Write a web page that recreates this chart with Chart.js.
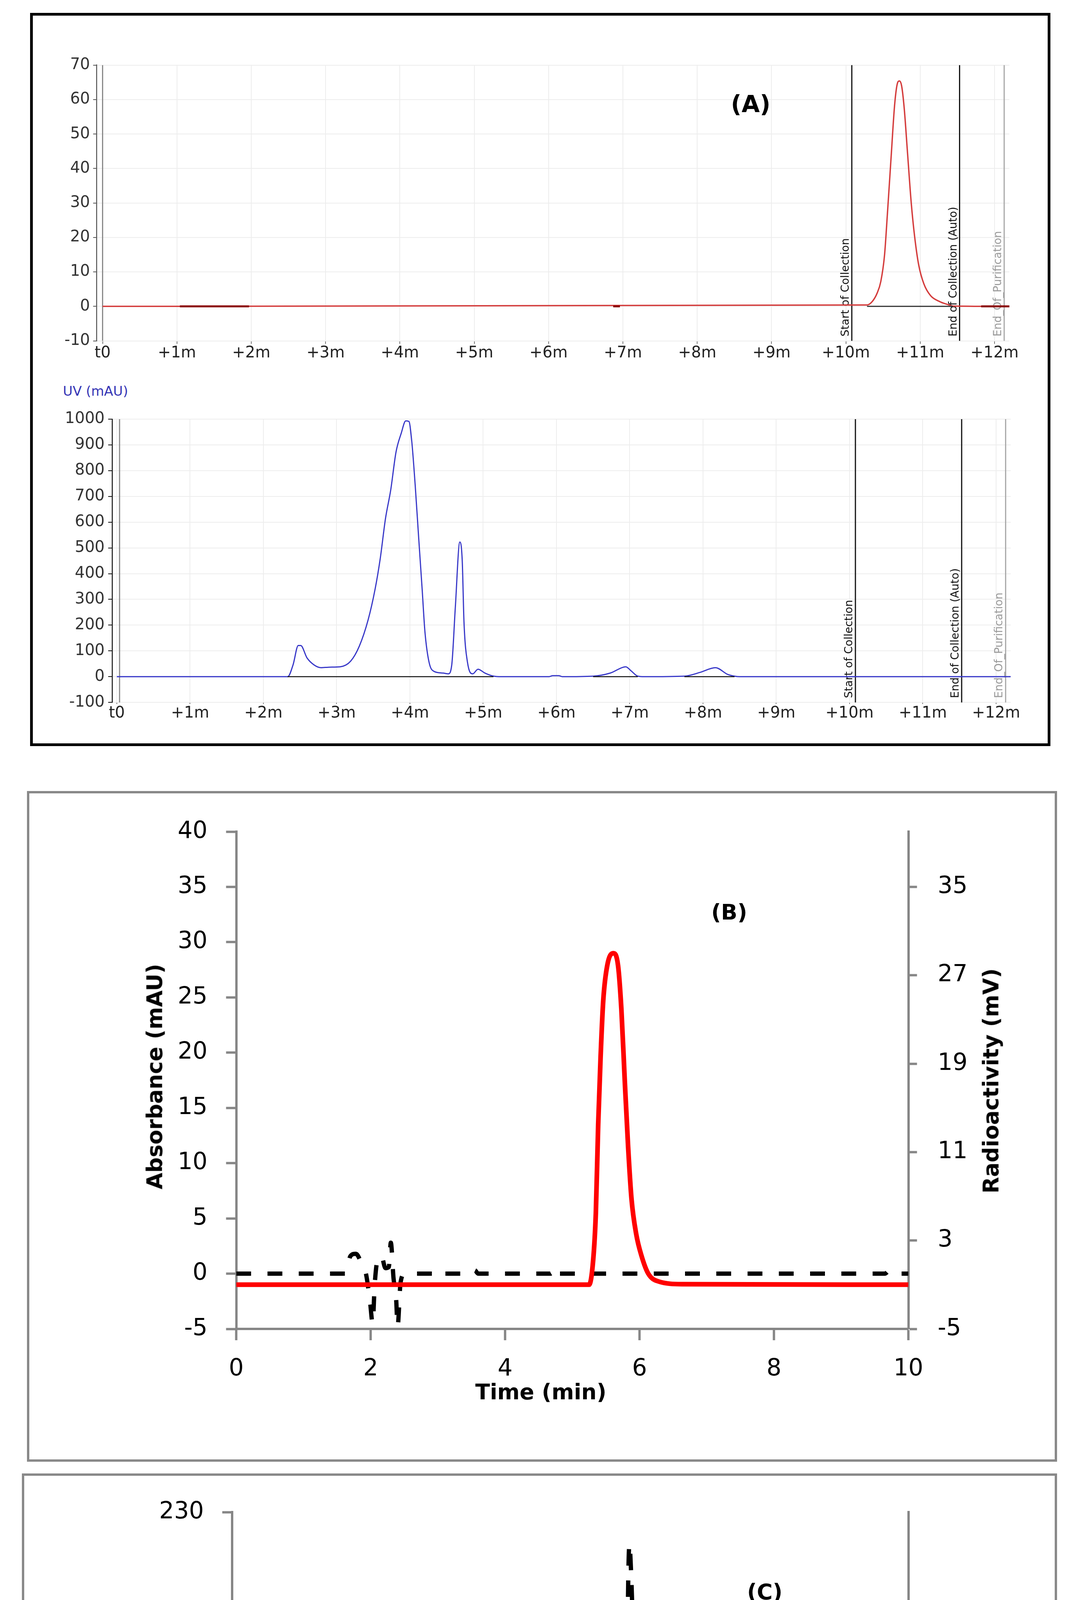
<!DOCTYPE html>
<html><head><meta charset="utf-8">
<script src="https://cdn.jsdelivr.net/npm/chart.js@4.4.1/dist/chart.umd.min.js"></script>
<style>
html,body{margin:0;padding:0;background:#fff;}
#page{position:relative;width:2733px;height:5506px;background:#fff;overflow:hidden;font-family:'DejaVu Sans',sans-serif;}
.box{position:absolute;box-sizing:border-box;}
canvas{position:absolute;}
.lbl{position:absolute;white-space:nowrap;line-height:1;transform:translate(-50%,-50%);color:#000;}
.rot{transform:translate(-50%,-50%) rotate(-90deg);}
.b{font-weight:bold;}
</style></head>
<body><div id="page">
<div class="box" style="left:77px;top:33px;width:2611px;height:1877px;border:7px solid #000;"></div>
<div class="box" style="left:69px;top:2025px;width:2636px;height:1717px;border:6px solid #898989;"></div>
<div class="box" style="left:56px;top:3772px;width:2649px;height:1691px;border:6px solid #898989;"></div>

<canvas id="cA1" width="2588" height="860" style="left:88px;top:100px;"></canvas>
<canvas id="cA2" width="2588" height="855" style="left:88px;top:1040px;"></canvas>
<canvas id="cB" width="2610" height="1685" style="left:80px;top:2040px;"></canvas>
<canvas id="cC" width="2620" height="1665" style="left:70px;top:3785px;"></canvas>

<div class="lbl b" style="left:1921px;top:266px;font-size:60px;">(A)</div>
<div class="lbl" style="left:161px;top:1001px;transform:translate(0,-50%);font-size:34px;color:#3535b5;">UV (mAU)</div>

<div class="lbl b" style="left:1866px;top:2335px;font-size:55px;">(B)</div>
<div class="lbl b rot" style="left:396px;top:2756px;font-size:55px;">Absorbance (mAU)</div>
<div class="lbl b rot" style="left:2536px;top:2767px;font-size:55px;">Radioactivity (mV)</div>
<div class="lbl b" style="left:1384px;top:3563px;font-size:55px;">Time (min)</div>

<div class="lbl b" style="left:1957px;top:4075px;font-size:55px;">(C)</div>
<div class="lbl b rot" style="left:338px;top:4506px;font-size:55px;">Absorbance (mAU)</div>
<div class="lbl b rot" style="left:2536px;top:4520px;font-size:55px;">Radioactivity (mV)</div>
<div class="lbl b" style="left:1378px;top:5318px;font-size:55px;">Time (min)</div>
</div>
<script>
// ---------- Panel A tick labels ----------
const A_X_TICKS = [0,1,2,3,4,5,6,7,8,9,10,11,12];
const A_X_LABELS = ['t0','+1m','+2m','+3m','+4m','+5m','+6m','+7m','+8m','+9m','+10m','+11m','+12m'];
// ---------- Panel A, radio trace (top) ----------
const A_RAD_TIME = [0,10.285,10.355,10.42,10.47,10.52,10.56,10.61,10.655,10.69,10.72,10.75,10.785,10.83,10.88,10.925,10.98,11.05,11.14,11.26,11.375,11.44,12.2];
const A_RAD_SIGNAL = [0,0.4,1.4,3.8,7.2,14.8,27.2,43.7,58.2,64.4,65.4,64.0,57.5,44.4,29.9,20.3,12.0,6.5,3.1,1.4,0.5,0.1,0];
const A_RAD_BASELINES = [[10.285,11.44]];
const A_RAD_DARK = [[1.04,1.97],[6.87,6.96],[11.82,12.2]];
// ---------- Panel A, UV trace (bottom) ----------
const A_UV_TIME = [0,2.333,2.405,2.476,2.51,2.595,2.69,2.786,2.905,3.048,3.19,3.31,3.429,3.524,3.595,3.667,3.738,3.81,3.881,3.943,3.986,4.024,4.072,4.119,4.167,4.205,4.262,4.333,4.452,4.524,4.571,4.619,4.681,4.714,4.738,4.786,4.857,4.929,5.024,5.143,5.25,5.9,5.95,6.03,6.08,6.5,6.735,6.946,7.017,7.11,7.2,7.746,7.958,8.17,8.335,8.43,8.5,12.2];
const A_UV_SIGNAL = [0,0,46,121,121,73,46,35,37,38.5,60,119,220,339,459,615,725,872,945,993,991,917,743,541,339,174,55,20,14,11,46,266,523,450,211,55,11,29,14,2,0,0,4,4,0,2,14,38.5,23,2,0,2,16.5,35,9,2,0,0];
const A_UV_BASELINES = [[2.33,5.14],[6.5,7.11],[7.746,8.43]];
// ---------- Panel A events ----------
const A_EVENT_NAMES = ['Start of Collection','End of Collection (Auto)','End_Of_Purification'];
const A_EVENT_TIMES = [10.08,11.53,12.13];

// ---------- Panel B ----------
const B_ABS_TIME = [0,1.62,1.70,1.78,1.86,1.93,1.99,2.03,2.06,2.10,2.16,2.22,2.27,2.30,2.34,2.38,2.40,2.445,2.51,3.0,3.05,3.1,3.5,3.55,3.6,4.68,4.745,4.81,9.65,9.72,9.79,10];
const B_ABS = [0,0,1.6,1.8,1.0,0.0,-2.5,-4.5,-1.0,1.2,1.6,0.5,0.6,2.8,-0.4,-2.4,-4.8,-0.8,0,0,0.3,0,0,0.3,0,0,0.6,0,0,0.3,0,0];
const B_RAD_TIME = [0,5.2,5.25,5.31,5.35,5.385,5.42,5.46,5.52,5.61,5.68,5.73,5.78,5.83,5.88,5.95,6.03,6.13,6.28,6.64,10];
const B_RAD = [-1,-1,-1.0,1.2,5.5,13.5,19.5,24.7,27.9,29.0,27.9,23.9,17.5,11.5,6.8,3.6,1.6,0.0,-0.7,-0.95,-1];
const B_RIGHT_TICKS = [-5,3,11,19,27,35];

// ---------- Panel C ----------
const C_ABS_TIME = [0,1.85,1.91,1.97,2.18,2.24,2.30,4.0,4.15,4.2,4.8,4.85,4.9,5.76,5.785,5.80,5.815,5.83,5.845,5.86,5.875,5.90,5.925,5.946,5.976,6.01,6.05,6.10,6.15,6.23,6.36,6.5,10];
const C_ABS = [0,0,2.5,0,0,-1.2,0,0,1.5,0,0,3,0,0,8,25,60,110,160,200,214,200,175,157,120,80,48,28,15,6.5,1.1,0,0];
const C_RAD_TIME = [0,5.92,5.99,6.05,6.10,6.15,6.19,6.23,6.28,6.33,6.37,6.43,6.50,6.57,6.64,6.70,6.76,6.84,6.97,7.12,10];
const C_RAD = [-1.05,-1.05,-0.91,-0.65,-0.35,-0.03,0.03,0.12,0.2,0.13,0.08,-0.05,-0.29,-0.57,-0.72,-0.85,-0.94,-0.99,-1.03,-1.04,-1.05];
const C_RIGHT_TICKS = [-1.5,-0.5,0.5];

// ---------- helpers ----------
const pts = (T, V) => T.map((t, i) => ({x: t, y: V[i]}));
const segs = (list, y) => list.flatMap(([a, b]) => [{x: a, y: y}, {x: b, y: y}, {x: b, y: null}]);
const FONT = 'DejaVu Sans';
const plain = v => String(v);

function makeMarkers(items) {
  return {
    id: 'markers',
    beforeDatasetsDraw(chart) {
      const {ctx, chartArea: ca} = chart;
      const x = chart.scales.x;
      ctx.save();
      items.forEach(m => {
        const px = x.getPixelForValue(m.t);
        ctx.strokeStyle = m.color; ctx.lineWidth = m.width;
        ctx.beginPath(); ctx.moveTo(px, ca.top); ctx.lineTo(px, ca.bottom); ctx.stroke();
        if (m.label) {
          ctx.save();
          ctx.translate(px - 8, ca.bottom - 11);
          ctx.rotate(-Math.PI / 2);
          ctx.fillStyle = m.textColor;
          ctx.font = '28px "' + FONT + '"';
          ctx.textAlign = 'left'; ctx.textBaseline = 'alphabetic';
          ctx.fillText(m.label, 0, 0);
          ctx.restore();
        }
      });
      ctx.restore();
    }
  };
}

function baseOptions(pad) {
  return {
    responsive: false, animation: false, devicePixelRatio: 1, events: [],
    layout: {padding: pad},
    plugins: {legend: {display: false}, tooltip: {enabled: false}},
    elements: {point: {radius: 0}, line: {tension: 0, fill: false, borderCapStyle: 'butt', borderJoinStyle: 'round'}}
  };
}

function eventMarkers(t0) {
  const cols = ['#111', '#111', '#a8a8a8'];
  const tcols = ['#111', '#111', '#9a9a9a'];
  const list = [{t: t0, color: '#8a8a8a', width: 3}];
  A_EVENT_TIMES.forEach((t, i) => list.push({t: t, color: cols[i], width: 3, label: A_EVENT_NAMES[i], textColor: tcols[i]}));
  return list;
}

function aScaleX(minX, h, tl) {
  return {
    type: 'linear', min: minX, max: 12.2,
    afterBuildTicks: s => { s.ticks = A_X_TICKS.map(v => ({value: v})); },
    afterFit: s => { s.height = h; },
    ticks: {callback: (v, i) => A_X_LABELS[i], font: {family: FONT, size: 40}, color: '#222', padding: 0, maxRotation: 0, autoSkip: false},
    grid: {color: '#ededed', lineWidth: 2, drawTicks: true, tickLength: tl, tickColor: '#777', tickWidth: 2},
    border: {display: false}
  };
}

// ---------- Panel A top (radio) ----------
const oA1 = baseOptions({top: 66.7, right: 93, left: 0, bottom: 0});
oA1.scales = {
  x: aScaleX(-0.08, 87.5, 8),
  y: {type: 'linear', min: -10, max: 70,
      afterFit: s => { s.width = 159.3; },
      ticks: {stepSize: 10, callback: plain, font: {family: FONT, size: 40}, color: '#333', padding: 8},
      grid: {color: '#ededed', lineWidth: 2, tickLength: 9, tickColor: '#555', tickWidth: 2},
      border: {color: '#555', width: 2.5}}
};
new Chart(document.getElementById('cA1'), {
  type: 'line',
  data: {datasets: [
    {data: segs(A_RAD_DARK, 0), borderColor: '#8b0000', borderWidth: 5},
    {data: segs(A_RAD_BASELINES, 0), borderColor: '#333', borderWidth: 3},
    {data: pts(A_RAD_TIME, A_RAD_SIGNAL), borderColor: '#d43c3c', borderWidth: 3.5, cubicInterpolationMode: 'monotone'}
  ]},
  options: oA1,
  plugins: [makeMarkers(eventMarkers(0))]
});

// ---------- Panel A bottom (UV) ----------
const oA2 = baseOptions({top: 31.2, right: 89.5, left: 0, bottom: 0});
oA2.scales = {
  x: aScaleX(-0.065, 96.8, 4),
  y: {type: 'linear', min: -100, max: 1000,
      afterFit: s => { s.width = 198.8; },
      ticks: {stepSize: 100, callback: plain, font: {family: FONT, size: 40}, color: '#333', padding: 9},
      grid: {color: '#ededed', lineWidth: 2, tickLength: 10, tickColor: '#111', tickWidth: 2},
      border: {color: '#111', width: 2.5}}
};
new Chart(document.getElementById('cA2'), {
  type: 'line',
  data: {datasets: [
    {data: segs(A_UV_BASELINES, 0), borderColor: '#111', borderWidth: 2.5},
    {data: pts(A_UV_TIME, A_UV_SIGNAL), borderColor: '#3737c8', borderWidth: 3, cubicInterpolationMode: 'monotone'}
  ]},
  options: oA2,
  plugins: [makeMarkers(eventMarkers(0.037))]
});

// ---------- Panels B and C ----------
function bcOptions(cfg) {
  const o = baseOptions({top: cfg.top, right: 0, left: 0, bottom: 0});
  const axisGrid = tl => ({drawOnChartArea: false, drawTicks: true, tickLength: tl, tickColor: '#868686', tickWidth: 6});
  const border = {color: '#868686', width: 6};
  const tickFont = {family: FONT, size: 60};
  o.scales = {
    x: {type: 'linear', min: 0, max: 10, afterFit: s => { s.height = cfg.xh; },
        ticks: {stepSize: 2, callback: plain, font: tickFont, color: '#000', padding: cfg.xpad, maxRotation: 0},
        grid: axisGrid(cfg.xtl), border: border},
    y: {type: 'linear', position: 'left', min: cfg.ymin, max: cfg.ymax, afterFit: s => { s.width = cfg.L; },
        ticks: {stepSize: cfg.ystep, callback: plain, font: tickFont, color: '#000', padding: cfg.ypad},
        grid: axisGrid(cfg.ytl), border: border},
    y1: {type: 'linear', position: 'right', min: cfg.rmin, max: cfg.rmax, afterFit: s => { s.width = cfg.R; },
        afterBuildTicks: s => { s.ticks = cfg.rticks.map(v => ({value: v})); },
        ticks: {callback: plain, font: tickFont, color: '#000', padding: cfg.rpad},
        grid: axisGrid(cfg.rtl), border: border}
  };
  return o;
}

new Chart(document.getElementById('cB'), {
  type: 'line',
  data: {datasets: [
    {data: pts(B_RAD_TIME, B_RAD), yAxisID: 'y1', borderColor: '#ff0000', borderWidth: 12, cubicInterpolationMode: 'monotone'},
    {data: pts(B_ABS_TIME, B_ABS), yAxisID: 'y', borderColor: '#000', borderWidth: 11, borderDash: [38, 42], cubicInterpolationMode: 'monotone'}
  ]},
  options: bcOptions({top: 65, xh: 323, L: 524.5, R: 365.4, xpad: 38.5, xtl: 29,
    ymin: -5, ymax: 40, ystep: 5, ypad: 47.5, ytl: 26,
    rmin: -5, rmax: 40, rticks: B_RIGHT_TICKS, rpad: 53, rtl: 22})
});

new Chart(document.getElementById('cC'), {
  type: 'line',
  data: {datasets: [
    {data: pts(C_RAD_TIME, C_RAD), yAxisID: 'y1', borderColor: '#ff0000', borderWidth: 12, cubicInterpolationMode: 'monotone'},
    {data: pts(C_ABS_TIME, C_ABS), yAxisID: 'y', borderColor: '#000', borderWidth: 11, borderDash: [42, 38], cubicInterpolationMode: 'monotone'}
  ]},
  options: bcOptions({top: 69, xh: 297, L: 523.75, R: 365.4, xpad: 37, xtl: 30,
    ymin: -20, ymax: 230, ystep: 50, ypad: 47, ytl: 25,
    rmin: -1.5, rmax: 1.0, rticks: C_RIGHT_TICKS, rpad: 50, rtl: 20})
});
</script>
</body></html>
